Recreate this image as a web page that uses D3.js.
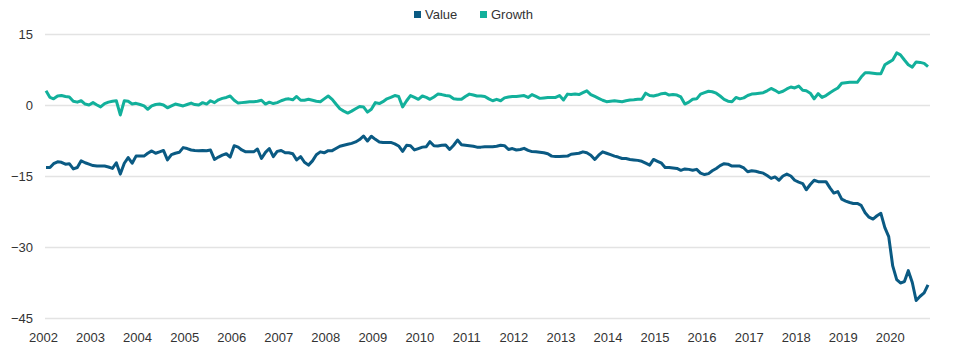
<!DOCTYPE html>
<html>
<head>
<meta charset="utf-8">
<script src="https://cdn.jsdelivr.net/npm/d3@7"></script>
<style>
  body { margin: 0; background: #fff; }
  svg text { font-family: "Liberation Sans", Arial, Helvetica, sans-serif; fill: #333; }
</style>
</head>
<body>
<div id="chart"></div>
<script>
const width = 960
const height = 352

// monthly values, Jan 2002 .. Oct 2020
const series = ["Value", "Growth"]
const colors = ["#0a5a83", "#12b09b"]
const yTicks = [15, 0, -15, -30, -45]
const yearLabels = d3.range(2002, 2021)

const value = [
  -13.2, -13.2, -12.4, -12.0, -12.1, -12.5, -12.4, -13.5, -13.2, -11.8, -12.2, -12.5,
  -12.8, -12.9, -12.9, -12.9, -13.1, -13.4, -12.2, -14.6, -12.3, -11.1, -12.3, -10.8,
  -10.8, -10.8, -10.2, -9.7, -10.2, -9.9, -9.6, -11.6, -10.5, -10.2, -10.0, -9.0,
  -9.2, -9.5, -9.6, -9.65, -9.6, -9.65, -9.5, -11.5, -11.0, -10.6, -10.3, -11.0,
  -8.6, -8.9, -9.5, -9.9, -9.9, -9.9, -9.3, -11.3, -10.0, -9.2, -10.9, -9.8,
  -9.6, -10.1, -10.1, -10.3, -11.6, -10.9, -12.1, -12.7, -11.8, -10.5, -9.9, -10.1,
  -9.65, -9.65, -9.2, -8.7, -8.5, -8.3, -8.1, -7.8, -7.3, -6.55, -7.6, -6.6,
  -7.25, -7.8, -7.9, -7.9, -7.9, -8.2, -8.65, -9.8, -8.5, -8.6, -9.5, -9.2,
  -8.9, -8.8, -7.75, -8.6, -8.65, -8.5, -8.45, -9.4, -8.5, -7.4, -8.4, -8.5,
  -8.6, -8.7, -8.9, -8.9, -8.8, -8.8, -8.8, -8.7, -8.5, -8.6, -9.4, -9.2,
  -9.5, -9.4, -9.15, -9.6, -9.85, -9.9, -10.0, -10.1, -10.3, -10.8, -10.9, -10.9,
  -10.85, -10.8, -10.4, -10.3, -10.2, -9.9, -10.1, -10.6, -11.5, -10.6, -9.9, -10.2,
  -10.5, -10.8, -11.0, -11.3, -11.3, -11.5, -11.6, -11.7, -11.9, -12.3, -12.7, -11.5,
  -11.9, -12.3, -13.2, -13.2, -13.3, -13.4, -13.8, -13.5, -13.6, -13.8, -13.6, -14.4,
  -14.7, -14.5, -13.9, -13.4, -12.8, -12.4, -12.5, -12.9, -12.9, -12.9, -13.3, -14.1,
  -13.9, -14.0, -14.2, -14.4, -14.9, -15.5, -15.2, -15.9, -15.0, -14.6, -15.0, -15.9,
  -16.3, -16.6, -17.9, -16.8, -15.9, -16.2, -16.2, -16.2, -17.5, -18.6, -18.3, -19.9,
  -20.3, -20.6, -20.8, -20.8, -21.2, -22.75, -23.7, -24.1, -23.4, -22.9, -25.9, -27.8,
  -34.0, -36.9, -37.6, -37.3, -35.0, -37.5, -41.3, -40.4, -39.7, -38.0
]

const growth = [
  3.0, 1.6, 1.3, 1.9, 2.0, 1.8, 1.7, 0.8, 0.6, 0.9, 0.2, 0.0,
  0.5, 0.0, -0.4, 0.3, 0.6, 0.8, 0.9, -2.1, 0.9, 0.8, 0.2, 0.35,
  0.1, -0.2, -0.9, -0.2, 0.1, 0.2, 0.0, -0.6, -0.2, 0.2, 0.0, -0.2,
  0.1, 0.4, 0.1, 0.0, 0.5, 0.2, 0.9, 0.5, 1.1, 1.4, 1.6, 1.9,
  1.0, 0.4, 0.5, 0.6, 0.7, 0.7, 0.8, 1.0, 0.2, 0.6, 0.3, 0.5,
  0.9, 1.2, 1.3, 1.1, 1.8, 1.0, 1.0, 1.2, 1.0, 0.8, 0.7, 1.3,
  1.9, 1.2, 0.2, -0.8, -1.3, -1.7, -1.3, -0.8, -0.3, -0.4, -1.5, -0.9,
  0.5, 0.3, 0.7, 1.3, 1.6, 2.0, 1.8, -0.4, 0.9, 2.0, 1.6, 1.2,
  1.9, 1.6, 1.2, 1.7, 2.3, 2.2, 2.0, 1.9, 1.3, 1.2, 1.2, 1.8,
  2.3, 2.1, 1.9, 1.9, 1.8, 1.3, 0.9, 1.2, 0.9, 1.5, 1.7, 1.8,
  1.8, 1.9, 2.0, 1.6, 2.2, 1.8, 1.4, 1.5, 1.6, 1.6, 1.6, 2.0,
  1.05, 2.3, 2.2, 2.3, 2.2, 2.6, 3.0, 2.2, 1.8, 1.4, 1.0, 0.7,
  0.8, 0.9, 0.8, 0.7, 0.9, 1.05, 1.1, 1.2, 1.2, 2.5, 2.0, 1.9,
  2.1, 2.4, 2.5, 2.1, 2.2, 2.1, 1.7, 0.2, 0.6, 1.2, 1.3, 2.3,
  2.6, 2.9, 2.8, 2.5, 1.9, 1.2, 0.8, 0.7, 1.6, 1.3, 1.5, 2.0,
  2.3, 2.4, 2.5, 2.6, 3.0, 3.5, 3.1, 2.6, 2.9, 3.4, 3.8, 3.6,
  4.0, 3.1, 3.0, 2.5, 1.3, 2.4, 1.6, 2.0, 2.6, 3.1, 3.6, 4.6,
  4.7, 4.8, 4.8, 4.8, 5.9, 6.8, 6.8, 6.7, 6.6, 6.6, 8.5, 9.0,
  9.5, 11.0, 10.6, 9.5, 8.5, 8.0, 9.1, 9.0, 8.8, 8.1
]

const dates = d3.timeMonth.range(new Date(2002, 0, 1), new Date(2002, value.length, 1))

const svg = d3.select("#chart")
  .append("svg")
  .attr("width", width)
  .attr("height", height)

const x = d3.scaleTime()
  .domain([dates[0], dates[dates.length - 1]])
  .range([46, 928])

const y = d3.scaleLinear()
  .domain([-45, 15])
  .range([318, 34])

// grid lines + y labels
const yAxis = svg.append("g")
  .attr("transform", "translate(45,0)")
  .call(d3.axisLeft(y).tickValues(yTicks).tickSize(-885).tickPadding(12).tickFormat(d3.format("d")))
yAxis.select(".domain").remove()
yAxis.selectAll("line").attr("stroke", "#e3e3e3").attr("stroke-width", 1.5)
yAxis.selectAll("text").style("font-size", "13px").attr("fill", "#333")

// x labels
const xAxis = svg.append("g")
  .attr("transform", "translate(-3,330)")
  .call(d3.axisBottom(x).tickValues(yearLabels.map(yr => new Date(yr, 0, 1))).tickSize(0).tickFormat(d3.timeFormat("%Y")))
xAxis.select(".domain").remove()
xAxis.selectAll("text").style("font-size", "13px").attr("fill", "#333")

const line = d3.line()
  .x((d, i) => x(dates[i]))
  .y(d => y(d))

svg.append("path")
  .datum(growth)
  .attr("fill", "none")
  .attr("stroke", colors[1])
  .attr("stroke-width", 3)
  .attr("stroke-linejoin", "round")
  .attr("d", line)

svg.append("path")
  .datum(value)
  .attr("fill", "none")
  .attr("stroke", colors[0])
  .attr("stroke-width", 3)
  .attr("stroke-linejoin", "round")
  .attr("d", line)

// legend
const legendX = [414, 480]
const legend = svg.append("g")
  .selectAll("g")
  .data(series)
  .enter().append("g")
  .attr("transform", (d, i) => `translate(${legendX[i]},10)`)

legend.append("rect")
  .attr("width", 7)
  .attr("height", 7)
  .attr("y", 1)
  .attr("fill", (d, i) => colors[i])

legend.append("text")
  .attr("x", 11)
  .attr("y", 9)
  .style("font-size", "13px")
  .text(d => d)
</script>
</body>
</html>
